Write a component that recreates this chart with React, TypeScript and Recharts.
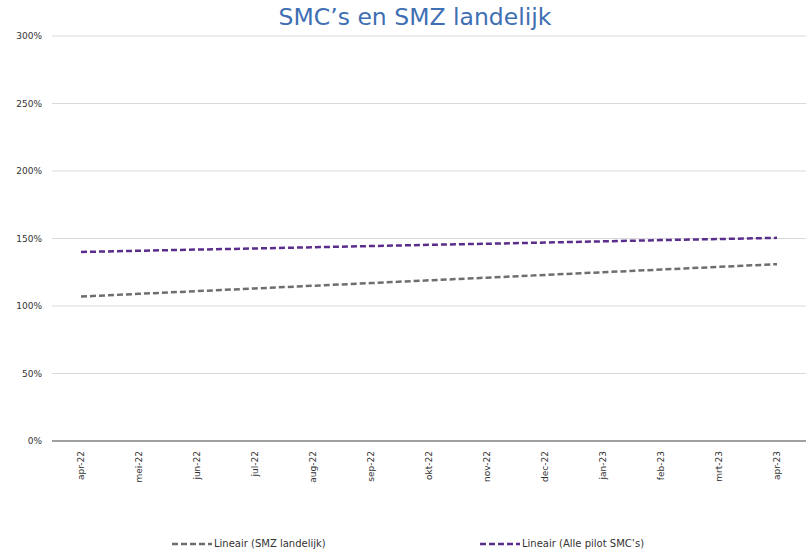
import React from 'react';
import { LineChart, Line, XAxis, YAxis, CartesianGrid } from 'recharts';

const months = ['apr-22', 'mei-22', 'jun-22', 'jul-22', 'aug-22', 'sep-22', 'okt-22', 'nov-22', 'dec-22', 'jan-23', 'feb-23', 'mrt-23', 'apr-23'];
const smzLandelijk = [1.07, 1.09, 1.11, 1.13, 1.15, 1.17, 1.19, 1.21, 1.23, 1.25, 1.27, 1.29, 1.31];
const pilotSmcs = [1.4, 1.409, 1.418, 1.426, 1.435, 1.444, 1.453, 1.461, 1.47, 1.479, 1.488, 1.496, 1.505];
const yTicks = [0, 0.5, 1, 1.5, 2, 2.5, 3];

const data = months.map((m, i) => ({ month: m, smz: smzLandelijk[i], smc: pilotSmcs[i] }));

const FONT = '"DejaVu Sans", Verdana, sans-serif';

const MonthTick = (props: any) => {
    const { x, y, payload } = props;
    return (
        <text
            x={x}
            y={y}
            transform={`rotate(-90, ${x}, ${y})`}
            dy={3}
            textAnchor="end"
            fontSize={9}
            fontFamily={FONT}
            fill="#333"
        >
            {payload.value}
        </text>
    );
};

const LegendItem = ({ color, label, left }: { color: string; label: string; left: number }) => (
    <div style={{ position: 'absolute', left, top: 538, display: 'flex', alignItems: 'center' }}>
        <svg width={42} height={10}>
            <line x1={0} y1={5} x2={40} y2={5} stroke={color} strokeWidth={2.5} strokeDasharray="6 3" />
        </svg>
        <span style={{ fontFamily: FONT, fontSize: 10, color: '#333' }}>{label}</span>
    </div>
);

const App: React.FC = () => {
    return (
        <div style={{ position: 'absolute', left: 0, top: 0, width: 808, height: 552, background: '#fff' }}>
            <div
                style={{
                    position: 'absolute',
                    top: 3,
                    left: 0,
                    width: 830,
                    textAlign: 'center',
                    fontFamily: FONT,
                    fontSize: 23.5,
                    color: '#3f6fb3',
                }}
            >
                SMC’s en SMZ landelijk
            </div>
            <LineChart width={808} height={552} data={data} margin={{ top: 36, right: 2, left: 0, bottom: 51 }}>
                <CartesianGrid horizontal vertical={false} stroke="#d9d9d9" />
                <XAxis
                    dataKey="month"
                    height={60}
                    tick={<MonthTick />}
                    tickLine={false}
                    stroke="#555"
                    tickMargin={4}
                    interval={0}
                    padding={{ left: 29, right: 29 }}
                />
                <YAxis
                    width={52}
                    ticks={yTicks}
                    domain={[0, 3]}
                    tickFormatter={(v: number) => `${Math.round(v * 100)}%`}
                    axisLine={false}
                    tickLine={false}
                    tickMargin={4}
                    tick={{ fontSize: 9, fontFamily: FONT, fill: '#333' }}
                />
                <Line
                    type="linear"
                    dataKey="smz"
                    stroke="#6e6e6e"
                    strokeWidth={2.5}
                    strokeDasharray="6 3"
                    dot={false}
                    isAnimationActive={false}
                />
                <Line
                    type="linear"
                    dataKey="smc"
                    stroke="#5a2d8c"
                    strokeWidth={2.5}
                    strokeDasharray="6 3"
                    dot={false}
                    isAnimationActive={false}
                />
            </LineChart>
            <LegendItem color="#6e6e6e" label="Lineair (SMZ landelijk)" left={172} />
            <LegendItem color="#5a2d8c" label="Lineair (Alle pilot SMC’s)" left={480} />
        </div>
    );
};

export default App;
